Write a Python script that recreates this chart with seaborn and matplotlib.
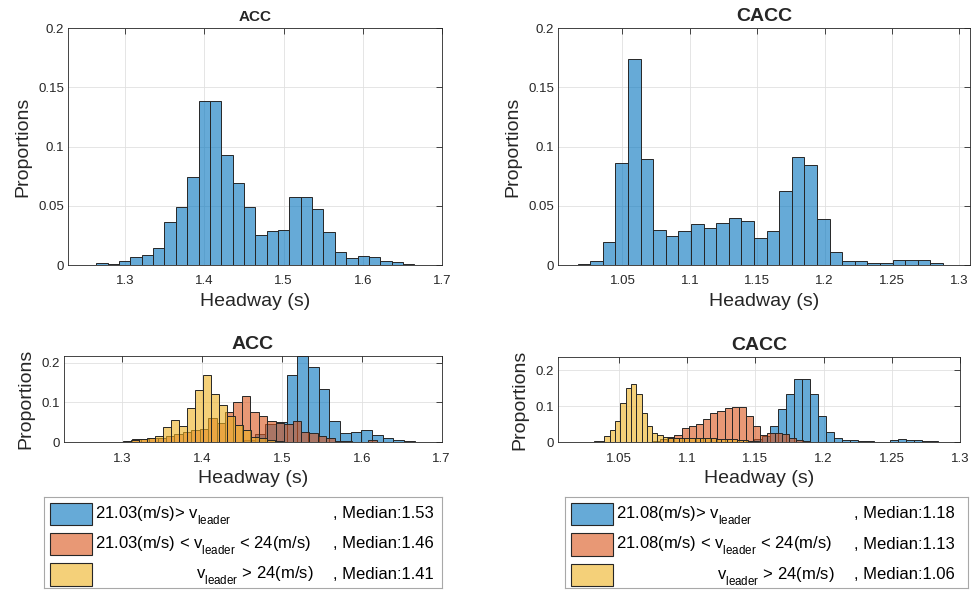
import numpy as np
import pandas as pd
import seaborn as sns
import matplotlib
matplotlib.use('Agg')
import matplotlib.pyplot as plt
from matplotlib import _mathtext
from matplotlib.patches import Rectangle
from matplotlib.ticker import FuncFormatter

'''
Headway histograms, ACC vs. CACC, all data (top) and split by leader speed
(bottom), with a legend box under each column.
'''

##############################################################################
# Data: bin start, bin width and bar heights (proportions)

acc_all_start, acc_all_width = 1.2633, 0.01435
acc_all = [0.0014, 0.0008, 0.003, 0.0065, 0.0087, 0.0144, 0.0366, 0.0487,
           0.0744, 0.1389, 0.1383, 0.093, 0.0693, 0.0493, 0.0254, 0.0287,
           0.0293, 0.0572, 0.0577, 0.0473, 0.0276, 0.0107, 0.0056, 0.0076,
           0.007, 0.0037, 0.0023, 0.0006, 0.0003]

cacc_all_start, cacc_all_width = 1.0168, 0.00935
cacc_all = [0.0006, 0.0031, 0.0192, 0.0859, 0.1738, 0.0893, 0.0296, 0.0242,
            0.029, 0.0344, 0.0316, 0.0358, 0.0394, 0.0372, 0.0228, 0.0285,
            0.0623, 0.0913, 0.0848, 0.0386, 0.0107, 0.0034, 0.0037, 0.0017,
            0.0017, 0.0042, 0.0039, 0.0039, 0.0017, 0.0003]

# ACC split by leader speed: low (blue), middle (orange), high (yellow)
acc_low_start, acc_low_width = 1.4529, 0.01333
acc_low = [0.005, 0.02, 0.045, 0.05, 0.170, 0.2167, 0.188, 0.133, 0.054,
           0.023, 0.027, 0.031, 0.019, 0.011, 0.0067, 0.0025]
acc_mid_start, acc_mid_width = 1.2919, 0.01055
acc_mid = [0.002, 0.004, 0.008, 0.009, 0.010, 0.012, 0.015, 0.020, 0.025,
           0.031, 0.033, 0.060, 0.048, 0.077, 0.100, 0.116, 0.075, 0.066,
           0.054, 0.049, 0.046, 0.054, 0.027, 0.023, 0.017, 0.010, 0.004,
           0.0025, 0.002, 0.001, 0.006, 0.002]
acc_high_start, acc_high_width = 1.252, 0.00996
acc_high = [0.0005, 0.0005, 0.001, 0.001, 0.0015, 0.003, 0.006, 0.0075,
            0.010, 0.015, 0.038, 0.056, 0.042, 0.085, 0.131, 0.170, 0.122,
            0.094, 0.066, 0.043, 0.030, 0.0125, 0.011, 0.006, 0.004, 0.002,
            0.001]

# CACC split by leader speed
cacc_low_start, cacc_low_width = 1.14315, 0.00585
cacc_low = [0.003, 0.008, 0.018, 0.045, 0.092, 0.133, 0.175, 0.176, 0.133,
            0.073, 0.030, 0.013, 0.0065, 0.0056, 0.0046, 0.003, 0.002, 0.001,
            0.0065, 0.008, 0.0074, 0.0065, 0.0037, 0.003, 0.001]
cacc_mid_start, cacc_mid_width = 1.0696, 0.00525
cacc_mid = [0.002, 0.004, 0.008, 0.014, 0.020, 0.039, 0.045, 0.051, 0.064,
            0.081, 0.088, 0.094, 0.099, 0.097, 0.073, 0.045, 0.020, 0.025,
            0.025, 0.023, 0.011, 0.006, 0.003, 0.001]
cacc_high_start, cacc_high_width = 1.0236, 0.0039
cacc_high = [0.0005, 0.001, 0.003, 0.005, 0.018, 0.034, 0.059, 0.110, 0.150,
             0.163, 0.133, 0.081, 0.044, 0.026, 0.020, 0.016, 0.013, 0.013,
             0.012, 0.012, 0.013, 0.012, 0.011, 0.012, 0.011, 0.010, 0.010,
             0.009, 0.008, 0.007, 0.006, 0.004, 0.003, 0.002, 0.001]

# Legend text
acc_threshold = '21.03'
cacc_threshold = '21.08'
acc_medians = [1.53, 1.46, 1.41]
cacc_medians = [1.18, 1.13, 1.06]

# Ticks and limits
acc_xticks = [1.3, 1.4, 1.5, 1.6, 1.7]
cacc_xticks = [1.05, 1.1, 1.15, 1.2, 1.25, 1.3]
top_yticks = [0, 0.05, 0.1, 0.15, 0.2]
bottom_yticks = [0, 0.1, 0.2]
acc_xlim = (1.228, 1.7)
cacc_top_xlim = (1.0024, 1.308)
cacc_bottom_xlim = (1.0055, 1.3)
top_ylim = (0, 0.2)
acc_bottom_ylim = (0, max(acc_low))
cacc_bottom_ylim = (0, 0.238)

##############################################################################

W, H = 972, 590
BLUE = (0.0, 0.447, 0.741)
ORANGE = (0.85, 0.325, 0.098)
YELLOW = (0.929, 0.694, 0.125)
EDGE = '#262626'
FONT = ['Liberation Sans', 'DejaVu Sans']

sns.set_style('whitegrid')
plt.rcParams['font.family'] = FONT
plt.rcParams['mathtext.default'] = 'regular'
# drop the "leader" subscript a bit lower, as in the original legend
_mathtext.FontConstantsBase.sub1 = 0.75


def px_axes(fig, x0, y0, x1, y1):
    '''Adds an axes given its pixel box (origin at top left).'''
    return fig.add_axes([x0 / W, 1 - y1 / H, (x1 - x0) / W, (y1 - y0) / H])


def draw_hist(ax, start, width, heights, color):
    '''Draws one histogram from its bin start, bin width and bar heights.'''
    edges = start + width * np.arange(len(heights) + 1)
    frame = pd.DataFrame({'headway': (edges[:-1] + edges[1:]) / 2,
                          'proportion': heights})
    sns.histplot(data=frame, x='headway', weights='proportion',
                 bins=list(edges), ax=ax, color=color, alpha=0.6,
                 edgecolor=EDGE, linewidth=0.7)


def style_axes(ax, title, title_size, xticks, xlim, yticks, ylim):
    ax.set_xlim(xlim)
    ax.set_ylim(ylim)
    ax.set_xticks(xticks)
    ax.set_yticks(yticks)
    fmt = FuncFormatter(lambda v, _: '%g' % round(v, 4))
    ax.xaxis.set_major_formatter(fmt)
    ax.yaxis.set_major_formatter(fmt)
    ax.set_title(title, fontsize=title_size, fontweight='bold', pad=5)
    ax.set_xlabel('Headway (s)', fontsize=14, labelpad=4)
    ax.set_ylabel('Proportions', fontsize=14, labelpad=5)
    ax.grid(True, color='#e0e0e0', linewidth=0.6)
    ax.set_axisbelow(True)
    ax.tick_params(axis='both', direction='in', top=True, right=True,
                   length=4, width=0.6, labelsize=9.5, colors=EDGE)
    ax.tick_params(axis='x', pad=7.5)
    ax.tick_params(axis='y', pad=3)
    for spine in ax.spines.values():
        spine.set_visible(True)
        spine.set_color(EDGE)
        spine.set_linewidth(0.6)


def draw_legend(fig, box, threshold, medians):
    '''Legend box drawn in its own axes, using pixel units inside the box.'''
    x0, y0, x1, y1 = box
    ax = px_axes(fig, x0, y0, x1, y1)
    ax.set_xlim(0, x1 - x0)
    ax.set_ylim(y1 - y0, 0)
    ax.set_xticks([])
    ax.set_yticks([])
    ax.grid(False)
    for spine in ax.spines.values():
        spine.set_color('#a8a8a8')
        spine.set_linewidth(0.8)
    vlead = r'$\mathregular{v_{leader}}$'
    rows = [(threshold + '(m/s)> ' + vlead, 'left'),
            (threshold + '(m/s) < ' + vlead + ' < 24(m/s)', 'left'),
            (vlead + ' > 24(m/s)', 'right')]
    for i, (color, (label, align), median) in enumerate(
            zip([BLUE, ORANGE, YELLOW], rows, medians)):
        top = 6 + 30.3 * i
        ax.add_patch(Rectangle((5.8, top), 42.4, 22.3,
                               facecolor=color + (0.6,), edgecolor=EDGE,
                               linewidth=0.8))
        base = top + 11.15 + 4.2
        tx = 51.3 if align == 'left' else 269.8
        ax.text(tx, base, label, ha=align, va='baseline', fontsize=12,
                color='black')
        ax.text(289, base, ', Median:%.2f' % median, ha='left',
                va='baseline', fontsize=12, color='black')


fig = plt.figure(figsize=(W / 100, H / 100), dpi=100)

# Top row: all data
ax = px_axes(fig, 68.3, 28.3, 442, 265)
draw_hist(ax, acc_all_start, acc_all_width, acc_all, BLUE)
style_axes(ax, 'ACC', 11, acc_xticks, acc_xlim, top_yticks, top_ylim)

ax = px_axes(fig, 558.3, 28.3, 970, 265)
draw_hist(ax, cacc_all_start, cacc_all_width, cacc_all, BLUE)
style_axes(ax, 'CACC', 14, cacc_xticks, cacc_top_xlim, top_yticks, top_ylim)

# Bottom row: split by leader speed
ax = px_axes(fig, 64.3, 356, 441.7, 442.3)
draw_hist(ax, acc_low_start, acc_low_width, acc_low, BLUE)
draw_hist(ax, acc_mid_start, acc_mid_width, acc_mid, ORANGE)
draw_hist(ax, acc_high_start, acc_high_width, acc_high, YELLOW)
style_axes(ax, 'ACC', 14, acc_xticks, acc_xlim, bottom_yticks,
           acc_bottom_ylim)

ax = px_axes(fig, 558.3, 356.7, 960, 442.3)
draw_hist(ax, cacc_low_start, cacc_low_width, cacc_low, BLUE)
draw_hist(ax, cacc_mid_start, cacc_mid_width, cacc_mid, ORANGE)
draw_hist(ax, cacc_high_start, cacc_high_width, cacc_high, YELLOW)
style_axes(ax, 'CACC', 14, cacc_xticks, cacc_bottom_xlim, bottom_yticks,
           cacc_bottom_ylim)

draw_legend(fig, (44, 496.7, 441.7, 588), acc_threshold, acc_medians)
draw_legend(fig, (565, 497, 968, 588), cacc_threshold, cacc_medians)

fig.savefig('out.png', dpi=100)
